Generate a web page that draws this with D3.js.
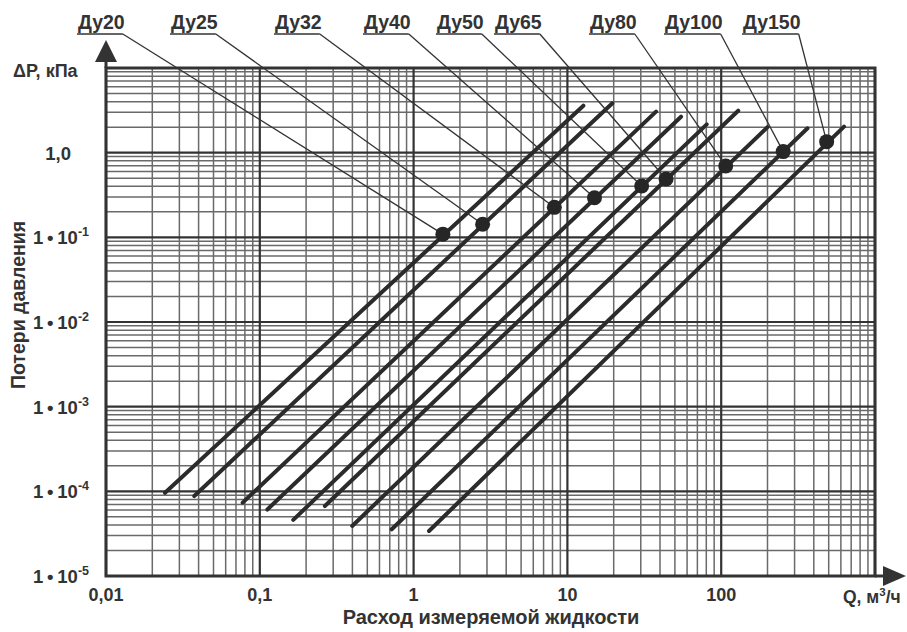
<!DOCTYPE html>
<html><head><meta charset="utf-8">
<script src="https://cdn.jsdelivr.net/npm/d3@7/dist/d3.min.js"></script>
<style>
html,body{margin:0;padding:0;background:#fff;}
svg text{font-family:"Liberation Sans",Arial,sans-serif;font-weight:bold;fill:#333;}
</style></head>
<body>
<svg id="chart" width="907" height="632"></svg>
<script>
// ---- data ----
const series = ["Ду20","Ду25","Ду32","Ду40","Ду50","Ду65","Ду80","Ду100","Ду150"];
const qStart = [0.0242, 0.0375, 0.0774, 0.112, 0.165, 0.265, 0.399, 0.721, 1.26];
const pStart = [9.6e-5, 8.8e-5, 7.35e-5, 6.1e-5, 4.6e-5, 6.7e-5, 3.9e-5, 3.56e-5, 3.4e-5];
const qEnd   = [12.7, 19.6, 37.7, 54.8, 80.5, 129, 200, 364, 629];
const pEnd   = [3.59, 3.83, 3.05, 2.66, 2.16, 3.13, 2.0, 1.94, 2.03];
const qMark  = [1.55, 2.81, 8.22, 15.0, 30.4, 43.8, 107, 253, 485];
const pMark  = [0.109, 0.143, 0.226, 0.294, 0.404, 0.489, 0.696, 1.03, 1.35];
const xTickValues = [0.01, 0.1, 1, 10, 100];
const xTickLabels = ["0,01", "0,1", "1", "10", "100"];
const yTickValues = [1, 0.1, 0.01, 0.001, 1e-4, 1e-5];
const yTickBase = ["1,0", "1\u2009•\u200910", "1\u2009•\u200910", "1\u2009•\u200910", "1\u2009•\u200910", "1\u2009•\u200910"];
const yTickSup  = ["", "-1", "-2", "-3", "-4", "-5"];

// ---- layout ----
const labelLeft = [78, 171, 275, 364, 437, 495, 590, 665, 743];
const L = 106, R = 875, T = 68, B = 576;
const svg = d3.select("#chart");
const x = d3.scaleLog().domain([0.01, 1000]).range([L, R]);
const y = d3.scaleLog().domain([1e-5, 10]).range([B, T]);
const isMajor = v => Math.abs(Math.log10(v) - Math.round(Math.log10(v))) < 1e-9;

const grid = svg.append("g");
const xt = x.ticks(), yt = y.ticks();
// minor
grid.selectAll(".vx").data(xt.filter(v => !isMajor(v))).join("line")
  .attr("x1", d => x(d)).attr("x2", d => x(d)).attr("y1", T).attr("y2", B)
  .attr("stroke", "#6a6a6a").attr("stroke-width", 1.5);
grid.selectAll(".hy").data(yt.filter(v => !isMajor(v))).join("line")
  .attr("y1", d => y(d)).attr("y2", d => y(d)).attr("x1", L).attr("x2", R)
  .attr("stroke", "#6a6a6a").attr("stroke-width", 1.5);
// major
grid.selectAll(".mx").data(xt.filter(isMajor)).join("line")
  .attr("x1", d => x(d)).attr("x2", d => x(d)).attr("y1", T).attr("y2", B)
  .attr("stroke", "#333").attr("stroke-width", 2.2);
grid.selectAll(".my").data(yt.filter(isMajor)).join("line")
  .attr("y1", d => y(d)).attr("y2", d => y(d)).attr("x1", L).attr("x2", R)
  .attr("stroke", "#333").attr("stroke-width", 2.2);
// frame
svg.append("rect").attr("x", L).attr("y", T).attr("width", R - L).attr("height", B - T)
  .attr("fill", "none").attr("stroke", "#333").attr("stroke-width", 3);

// axes arrows
svg.append("line").attr("x1", L).attr("x2", L).attr("y1", T).attr("y2", 55)
  .attr("stroke", "#333").attr("stroke-width", 3);
svg.append("path").attr("d", `M${L},40 L${L-11},62 L${L+11},62 Z`).attr("fill", "#333");
svg.append("line").attr("x1", R).attr("x2", 890).attr("y1", B).attr("y2", B)
  .attr("stroke", "#333").attr("stroke-width", 3);
svg.append("path").attr("d", `M906,${B} L883,${B-10} L883,${B+10} Z`).attr("fill", "#333");

// series lines
const idx = d3.range(series.length);
svg.append("g").selectAll("line").data(idx).join("line")
  .attr("x1", i => x(qStart[i])).attr("y1", i => y(pStart[i]))
  .attr("x2", i => x(qEnd[i])).attr("y2", i => y(pEnd[i]))
  .attr("stroke", "#2b2b2b").attr("stroke-width", 4).attr("stroke-linecap", "round");

// labels, underlines, leaders
const lab = svg.append("g");
idx.forEach(i => {
  const t = lab.append("text").attr("x", labelLeft[i]).attr("y", 29)
    .attr("font-size", 19.5).text(series[i]);
  const bb = t.node().getBBox();
  const x0 = bb.x - 1, x1 = bb.x + bb.width - 2;
  lab.append("line").attr("x1", x0).attr("x2", x1).attr("y1", 34).attr("y2", 34)
    .attr("stroke", "#333").attr("stroke-width", 1.6);
  lab.append("line").attr("x1", x1).attr("y1", 34)
    .attr("x2", x(qMark[i])).attr("y2", y(pMark[i]))
    .attr("stroke", "#333").attr("stroke-width", 1.3);
});

// markers
svg.append("g").selectAll("circle").data(idx).join("circle")
  .attr("cx", i => x(qMark[i])).attr("cy", i => y(pMark[i])).attr("r", 7.5)
  .attr("fill", "#262626");

// x tick labels
svg.append("g").selectAll("text").data(xTickValues).join("text")
  .attr("x", d => x(d)).attr("y", 601).attr("text-anchor", "middle")
  .attr("font-size", 18).text((d, i) => xTickLabels[i]);

// y tick labels
const yl = svg.append("g");
yTickValues.forEach((v, i) => {
  const t = yl.append("text").attr("y", y(v) + 7).attr("font-size", 18.5)
    .attr("text-anchor", "end");
  if (yTickSup[i]) {
    t.attr("x", 89);
    t.append("tspan").text(yTickBase[i]);
    t.append("tspan").attr("font-size", 12.5).attr("dy", -8).text(yTickSup[i]);
  } else {
    t.attr("x", 71).text(yTickBase[i]);
  }
});

// axis titles
svg.append("text").attr("x", 13).attr("y", 77).attr("font-size", 18).text("ΔP, кПа");
svg.append("text").attr("x", 843).attr("y", 603).attr("font-size", 17.5)
  .html('Q, м<tspan font-size="11.5" dy="-7">3</tspan><tspan dy="7">/ч</tspan>');
svg.append("text").attr("x", 491).attr("y", 624).attr("text-anchor", "middle")
  .attr("font-size", 20).text("Расход измеряемой жидкости");
svg.append("text").attr("transform", "translate(25,305) rotate(-90)")
  .attr("text-anchor", "middle").attr("font-size", 19.5).text("Потери давления");
</script>
</body></html>
